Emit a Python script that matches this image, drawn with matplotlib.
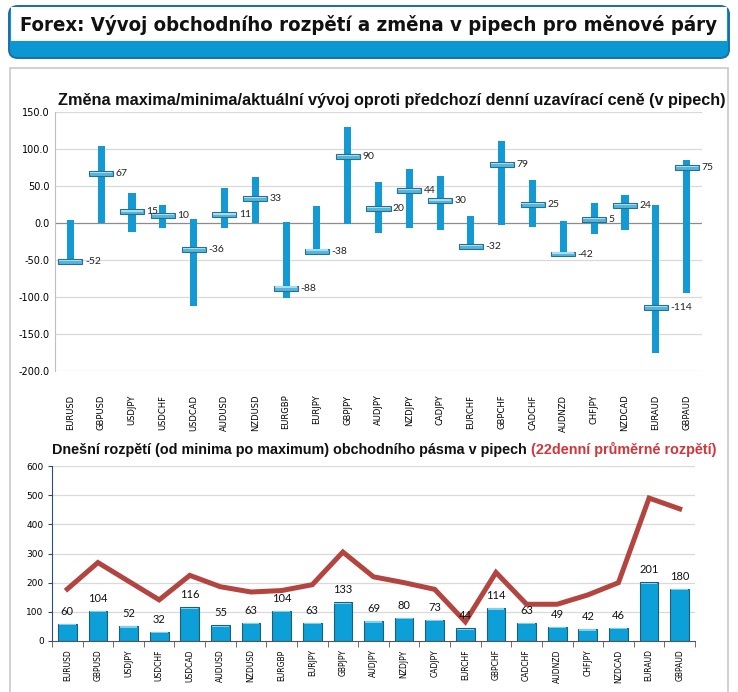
import matplotlib
matplotlib.use("Agg")
import matplotlib.pyplot as plt
import numpy as np
from matplotlib.patches import Rectangle, FancyBboxPatch

pairs = ["EURUSD", "GBPUSD", "USDJPY", "USDCHF", "USDCAD", "AUDUSD", "NZDUSD",
         "EURGBP", "EURJPY", "GBPJPY", "AUDJPY", "NZDJPY", "CADJPY", "EURCHF",
         "GBPCHF", "CADCHF", "AUDNZD", "CHFJPY", "NZDCAD", "EURAUD", "GBPAUD"]
day_max = [4, 104, 41, 24, 5, 47, 62, 2, 23, 130, 55, 73, 64, 9, 111, 58, 3, 27, 38, 24, 85]
day_min = [-57, 0, -12, -7, -112, -7, 0, -102, -39, -2, -14, -7, -10, -34, -3, -5, -43, -15, -9, -176, -95]
current = [-52, 67, 15, 10, -36, 11, 33, -88, -38, 90, 20, 44, 30, -32, 79, 25, -42, 5, 24, -114, 75]
today_range = [60, 104, 52, 32, 116, 55, 63, 104, 63, 133, 69, 80, 73, 44, 114, 63, 49, 42, 46, 201, 180]
avg22_range = [178, 269, 205, 141, 225, 186, 168, 173, 193, 305, 220, 200, 177, 66, 235, 126, 126, 158, 200, 490, 453]
top_ticks = [150, 100, 50, 0, -50, -100, -150, -200]
bottom_ticks = [0, 100, 200, 300, 400, 500, 600]

W, H = 738, 692
fig = plt.figure(figsize=(W / 100, H / 100), dpi=100)
fig.patch.set_facecolor("white")

def fx(px):
    return px / W

def fy(py):
    return 1 - py / H

# outer panel
fig.patches.append(Rectangle((fx(10), fy(700)), fx(728) - fx(10), fy(68) - fy(700),
                             transform=fig.transFigure, fill=False, edgecolor="#c9c9c9", lw=1.2))
# title box
fig.patches.append(FancyBboxPatch((fx(9), fy(58)), fx(729) - fx(9), fy(6) - fy(58),
                                  boxstyle="round,pad=0,rounding_size=0.012",
                                  transform=fig.transFigure, facecolor="#0a97d4",
                                  edgecolor="#1b6ea6", lw=1.4))
fig.patches.append(Rectangle((fx(10.5), fy(41)), fx(727.5) - fx(10.5), fy(7.5) - fy(41),
                             transform=fig.transFigure, facecolor="white", edgecolor="none"))
fig.text(fx(368), fy(25), "Forex: Vývoj obchodního rozpětí a změna v pipech pro měnové páry",
         ha="center", va="center", fontsize=14.6, fontweight="bold",
         family="DejaVu Sans", fontstretch="condensed", color="#111111")

x = np.arange(len(pairs))

# ---------- top chart ----------
ax1 = fig.add_axes([fx(55), fy(371), fx(702) - fx(55), fy(112) - fy(371)])
ax1.set_xlim(-0.5, len(pairs) - 0.5)
ax1.set_ylim(-200, 150)
ax1.set_yticks(top_ticks)
ax1.set_yticklabels([f"{t:.1f}" for t in top_ticks], fontsize=7, family="DejaVu Sans")
for t in top_ticks:
    ax1.axhline(t, color="#d9d9d9" if t != 0 else "#8c8c8c", lw=0.9, zorder=0)
lo = np.array(day_min)
hi = np.array(day_max)
ax1.bar(x, hi - lo, bottom=lo, width=0.23, color="#1399d4", edgecolor="none", zorder=2)
cap_h = 6.5
cur = np.array(current)
ax1.bar(x, cap_h, bottom=cur - cap_h / 2, width=0.78, color="#52b6de",
        edgecolor="#2b6f8c", lw=0.8, zorder=3)
ax1.bar(x, cap_h * 0.3, bottom=cur + cap_h * 0.05, width=0.72, color="#a8dcf0",
        edgecolor="none", zorder=4)
for xi, c in zip(x, current):
    ax1.text(xi + 0.47, c, f"{c}", ha="left", va="center", fontsize=7.5,
             family="Lato", color="#222222", zorder=5)
ax1.set_xticks(x)
ax1.set_xticklabels(pairs, rotation=90, fontsize=6, family="DejaVu Sans")
ax1.tick_params(axis="x", length=0, pad=17)
ax1.tick_params(axis="y", length=0, pad=4)
for s in ["top", "right", "bottom"]:
    ax1.spines[s].set_visible(False)
ax1.spines["left"].set_color("#bfbfbf")
fig.text(fx(392), fy(101), "Změna maxima/minima/aktuální vývoj oproti předchozí denní uzavírací ceně (v pipech)",
         ha="center", va="center", fontsize=11.7, fontweight="bold",
         family="Liberation Sans", color="#111111")
ax1.patch.set_alpha(0)

# ---------- bottom chart ----------
ax2 = fig.add_axes([fx(52), fy(641), fx(695) - fx(52), fy(466) - fy(641)])
ax2.set_xlim(-0.5, len(pairs) - 0.5)
ax2.set_ylim(0, 600)
ax2.set_yticks(bottom_ticks)
ax2.set_yticklabels([str(t) for t in bottom_ticks], fontsize=6.5, family="DejaVu Sans")
for t in bottom_ticks[1:]:
    ax2.axhline(t, color="#d9d9d9", lw=0.9, zorder=0)
ax2.bar(x, today_range, width=0.61, color="#0da0d8", edgecolor="#1f5e7a", lw=0.8, zorder=2)
ax2.bar(x, [4] * len(x), bottom=np.array(today_range) - 6, width=0.55, color="#7fd0ef",
        edgecolor="none", zorder=3)
ax2.plot(x, avg22_range, color="#b4443f", lw=3.6, zorder=4, solid_joinstyle="miter")
for xi, v in zip(x, today_range):
    ax2.annotate(f"{v}", (xi, v), xytext=(0, 5), textcoords="offset points",
                 ha="center", va="bottom", fontsize=8, family="Lato", color="#111111", zorder=5)
ax2.set_xticks(x)
ax2.set_xticklabels(pairs, rotation=90, fontsize=5.5, family="DejaVu Sans")
ax2.set_xticks(np.arange(len(pairs) + 1) - 0.5, minor=True)
ax2.tick_params(axis="x", which="major", length=0, pad=6)
ax2.tick_params(axis="x", which="minor", length=4, color="#555555", direction="out")
ax2.tick_params(axis="y", length=3, color="#2e4a78", pad=3)
for s in ["top", "right"]:
    ax2.spines[s].set_visible(False)
ax2.spines["left"].set_color("#2e4a78")
ax2.spines["bottom"].set_color("#555555")
t1 = ax2.text(0.0, 1.05, "Dnešní rozpětí (od minima po maximum) obchodního pásma v pipech ",
              transform=ax2.transAxes, ha="left", va="bottom", fontsize=10.4, fontweight="bold",
              family="Liberation Sans", color="#111111")
ax2.annotate("(22denní průměrné rozpětí)", xy=(1, 0), xycoords=t1, ha="left", va="bottom",
             fontsize=10.4, fontweight="bold", family="Liberation Sans", color="#d0363a")
ax2.patch.set_alpha(0)

fig.savefig("out.png", dpi=100, facecolor="white")
